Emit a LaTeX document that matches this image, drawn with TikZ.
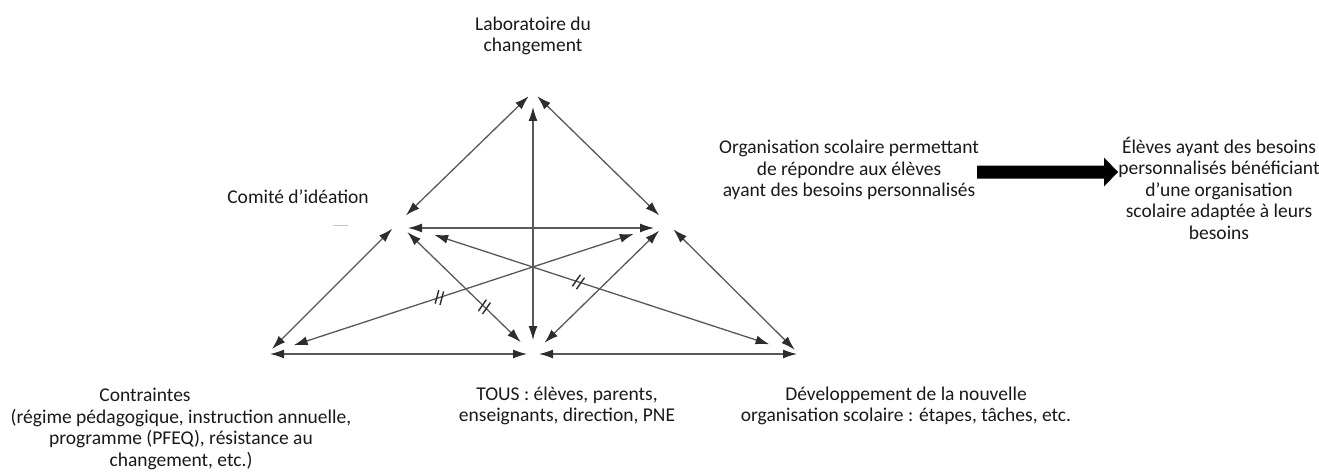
\documentclass[tikz,border=0pt]{standalone}
\usepackage{fontspec}
\setmainfont{Carlito}
\usetikzlibrary{arrows.meta,calc}
\definecolor{linegray}{RGB}{88,88,88}
\definecolor{headgray}{RGB}{45,45,45}
\definecolor{textc}{RGB}{25,25,25}

\begin{document}
\begin{tikzpicture}[x=1pt,y=1pt,
  lbl/.style={align=center, inner sep=0pt, text=textc,
              font=\fontsize{19.5}{21.5}\selectfont},
  link/.style={draw=linegray, line width=1.3pt,
               {Latex[length=14pt,width=9pt,color=headgray]}-{Latex[length=14pt,width=9pt,color=headgray]}},
  ticks/.pic={\draw[headgray, line width=1.4pt] (-2.5,-7) -- (-2.5,7) (2.5,-7) -- (2.5,7);},
]
\useasboundingbox (0,0) rectangle (1319,-476);

% corners of the change-laboratory figure
\coordinate (T)  at (533,-92);
\coordinate (L)  at (398,-223);
\coordinate (R)  at (667,-223);
\coordinate (BL) at (267,-354);
\coordinate (BM) at (533,-354);
\coordinate (BR) at (799,-354);

% labels
\node[lbl] (lab)  at (533,-36)  {Laboratoire du\\changement};
\node[lbl] (com)  at (298,-197) {Comité d’idéation};
\node[lbl] (org)  at (849,-170) {Organisation scolaire permettant\\de répondre aux élèves\\ayant des besoins personnalisés};
\node[lbl] (ben)  at (1219,-188) {Élèves ayant des besoins\\personnalisés bénéficiant\\d’une organisation\\scolaire adaptée à leurs\\besoins};
\node[lbl] (con)  at (181,-429) {Contraintes\hspace*{72pt}\\(régime pédagogique, instruction annuelle,\\programme (PFEQ), résistance au\\changement, etc.)};
\node[lbl] (tous) at (567,-406) {TOUS : élèves, parents,\\enseignants, direction, PNE};
\node[lbl] (dev)  at (906,-406) {Développement de la nouvelle\\organisation scolaire : étapes, tâches, etc.};

% outer triangle and inner links
\draw[link, shorten <=6pt, shorten >=11pt] (T) -- (L);
\draw[link, shorten <=6pt, shorten >=11pt] (T) -- (R);
\draw[link, shorten <=14pt, shorten >=15pt] (BM) -- (T);
\draw[link, shorten <=10pt, shorten >=13pt] ([yshift=-5pt]L) -- ([yshift=-5pt]R);
\draw[link, shorten <=8pt, shorten >=7pt] (L) -- (BL);
\draw[link, shorten <=9pt, shorten >=6pt] (R) -- (BR);
\draw[link, shorten <=3pt, shorten >=6pt] (BL) -- (BM);
\draw[link, shorten <=6pt, shorten >=2pt] (BM) -- (BR);
\draw[link, shorten <=13pt, shorten >=17pt] (L) -- (BM);
\draw[link, shorten <=11pt, shorten >=16pt] (R) -- (BM);
\draw[link, shorten <=28pt, shorten >=35pt] (BL) -- (R);
\draw[link, shorten <=38pt, shorten >=31pt] (L) -- (BR);

% double tick marks on three of the links
\path (BL) -- (R)  coordinate[pos=0.431] (tk1);
\path (L)  -- (BM) coordinate[pos=0.64]  (tk2);
\path (L)  -- (BR) coordinate[pos=0.45]  (tk3);
\pic[rotate=-15] at (tk1) {ticks};
\pic[rotate=-35] at (tk2) {ticks};
\pic[rotate=-35] at (tk3) {ticks};

% small stray dash next to the committee label
\draw[gray!45, line width=1pt] (333,-225) -- (348,-225);

% thick arrow towards the outcome
\coordinate (arS) at (977,-172);
\coordinate (arE) at (1118,-172);
\fill[black] ($(arS)+(0,6.5)$) -- ($(arE)+(-14,6.5)$) -- ($(arE)+(-14,14.5)$) -- (arE)
  -- ($(arE)+(-14,-14.5)$) -- ($(arE)+(-14,-6.5)$) -- ($(arS)+(0,-6.5)$) -- cycle;
\end{tikzpicture}
\end{document}
